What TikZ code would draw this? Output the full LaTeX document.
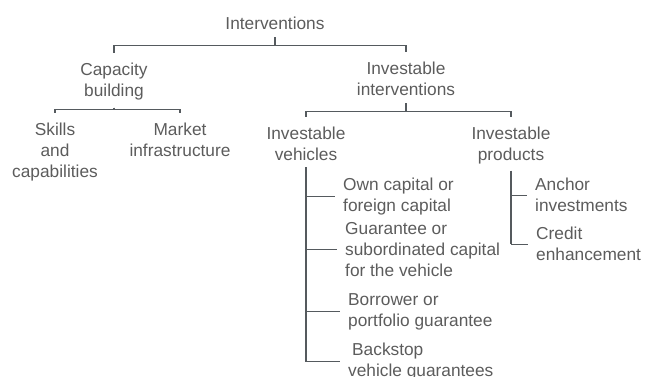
\documentclass[tikz,border=0pt]{standalone}
\usepackage{fontspec}
\setmainfont{Liberation Sans}
\usepackage{xcolor}
\usepackage{tikz}
\definecolor{inkgray}{HTML}{5C5C5C}
\definecolor{wiregray}{HTML}{555A5E}
\tikzset{
  cat/.style   = {align=center, anchor=north, inner sep=0pt, text=inkgray,
                  font=\fontsize{17.3}{21}\selectfont},
  leaf/.style  = {cat, align=left, anchor=north west},
  fork/.style  = {draw=wiregray, line width=1.3pt, shorten <=7pt, shorten >=10pt},
  spine/.style = {draw=wiregray, line width=2pt, shorten <=6pt},
  twig/.style  = {draw=wiregray, line width=1.1pt, shorten >=8pt},
}

\begin{document}
\begin{tikzpicture}[x=1pt, y=-1pt]
  \useasboundingbox (0,0) rectangle (657,376);

  % tree levels
  \node[cat] (top)    at (275,17)  {Interventions};
  \node[cat] (cap)    at (114,63)  {Capacity\\building};
  \node[cat] (inv)    at (406,62)  {Investable\\interventions};
  \node[cat] (skills) at (55,123)  {Skills\\and\\capabilities};
  \node[cat] (market) at (180,123) {Market\\infrastructure};
  \node[cat] (veh)    at (306,127) {Investable\\vehicles};
  \node[cat] (prod)   at (511,127) {Investable\\products};

  % leaves
  \node[leaf] (own)    at (343,178) {Own capital or\\foreign capital};
  \node[leaf] (guar)   at (345,222) {Guarantee or\\subordinated capital\\for the vehicle};
  \node[leaf] (borr)   at (348,293) {Borrower or\\portfolio guarantee};
  \node[leaf] (back)   at (348,343) {\hspace*{4pt}Backstop\\vehicle guarantees};
  \node[leaf] (anchor) at (535,178) {Anchor\\investments};
  \node[leaf] (credit) at (536,227) {Credit\\enhancement};

  % brackets
  \draw[fork] (top.south) -- ++(0,15.6) -| (cap.north);
  \draw[fork] (top.south) -- ++(0,15.6) -| (inv.north);
  \draw[fork] (cap.south) -- ++(0,9) -| (skills.north);
  \draw[fork] (cap.south) -- ++(0,9) -| (market.north);
  \draw[fork] (inv.south) -- ++(0,15.6) -| (veh.north);
  \draw[fork] (inv.south) -- ++(0,15.6) -| (prod.north);

  % side branches
  \draw[spine] (veh.south) -- (veh.south |- back.west);
  \draw[twig] (veh.south |- own.west) -- (own.west);
  \draw[twig] (veh.south |- guar.west) -- (guar.west);
  \draw[twig] (veh.south |- borr.west) -- (borr.west);
  \draw[twig] (veh.south |- back.west) -- (back.west);
  \draw[spine] (prod.south) -- (prod.south |- credit.west);
  \draw[twig] (prod.south |- anchor.west) -- (anchor.west);
  \draw[twig] (prod.south |- credit.west) -- (credit.west);
\end{tikzpicture}
\end{document}
